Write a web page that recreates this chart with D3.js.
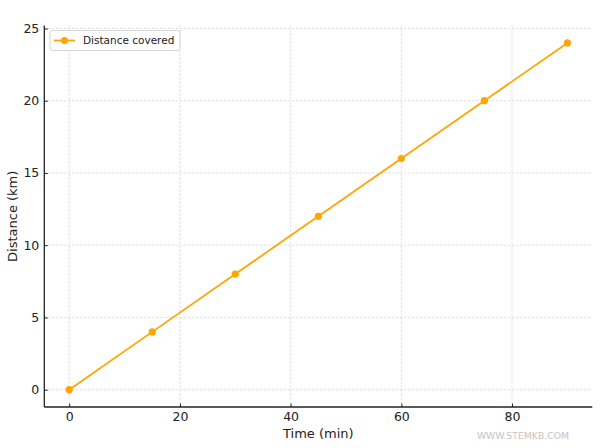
<!DOCTYPE html>
<html><head><meta charset="utf-8">
<script src="https://cdn.jsdelivr.net/npm/d3@7"></script>
<style>body{margin:0;background:#fff}svg{display:block}text{font-family:"DejaVu Sans",sans-serif}</style>
</head><body>
<svg id="c" width="600" height="448"></svg>
<script>
const times = [0, 15, 30, 45, 60, 75, 90];
const distances = [0, 4, 8, 12, 16, 20, 24];
const xTicks = [0, 20, 40, 60, 80];
const yTicks = [0, 5, 10, 15, 20, 25];
const seriesName = "Distance covered";

const svg = d3.select("#c");
const L = 44.3, R = 592.3, T = 25.6, B = 407;
const x = d3.scaleLinear().domain([-4.5, 94.5]).range([L, R]);
const y = d3.scaleLinear().domain([-1.2, 25.2]).range([B, T]);

// grid
const g = svg.append("g");
g.selectAll("line.gx").data(xTicks).join("line")
  .attr("x1", d => x(d)).attr("x2", d => x(d)).attr("y1", T).attr("y2", B)
  .attr("stroke", "#cfcfcf").attr("stroke-width", 0.8).attr("stroke-dasharray", "2,2");
g.selectAll("line.gy").data(yTicks).join("line")
  .attr("y1", d => y(d)).attr("y2", d => y(d)).attr("x1", L).attr("x2", R)
  .attr("stroke", "#cfcfcf").attr("stroke-width", 0.8).attr("stroke-dasharray", "2,2");

// axes
const xa = svg.append("g").attr("transform", `translate(0,${B})`)
  .call(d3.axisBottom(x).tickValues(xTicks).tickSize(-3.5).tickPadding(5).tickFormat(d3.format("d")));
const ya = svg.append("g").attr("transform", `translate(${L},0)`)
  .call(d3.axisLeft(y).tickValues(yTicks).tickSize(-3.5).tickPadding(5).tickFormat(d3.format("d")));
[xa, ya].forEach(a => {
  a.attr("font-size", 12.5).attr("font-family", '"DejaVu Sans",sans-serif');
  a.select(".domain").attr("stroke", "#222").attr("stroke-width", 1.3);
  a.selectAll(".tick line").attr("stroke", "#222").attr("stroke-width", 1);
  a.selectAll(".tick text").attr("font-size", 12.5).attr("fill", "#222");
});
xa.select(".domain").attr("d", `M${L},0H${R}`);
ya.select(".domain").attr("d", `M0,${B}V${T}`);

// line
svg.append("path").datum(times.map((t, i) => [t, distances[i]]))
  .attr("fill", "none").attr("stroke", "#FFA500").attr("stroke-width", 1.8)
  .attr("d", d3.line().x(d => x(d[0])).y(d => y(d[1])));
svg.selectAll("circle.p").data(times).join("circle")
  .attr("cx", d => x(d)).attr("cy", (d, i) => y(distances[i])).attr("r", 3.6)
  .attr("fill", "#FFA500");

// labels
svg.append("text").attr("x", (L + R) / 2).attr("y", 437.5).attr("text-anchor", "middle")
  .attr("font-size", 13).attr("fill", "#222").text("Time (min)");
svg.append("text").attr("transform", `translate(17,${(T + B) / 2}) rotate(-90)`)
  .attr("text-anchor", "middle").attr("font-size", 13).attr("fill", "#222").text("Distance (km)");

// legend
const lg = svg.append("g");
lg.append("rect").attr("x", 50).attr("y", 30.5).attr("width", 130).attr("height", 20).attr("rx", 2.5)
  .attr("fill", "#fff").attr("fill-opacity", 0.85).attr("stroke", "#d6d6d6").attr("stroke-width", 1);
lg.append("line").attr("x1", 54).attr("x2", 75).attr("y1", 40.5).attr("y2", 40.5)
  .attr("stroke", "#FFA500").attr("stroke-width", 1.8);
lg.append("circle").attr("cx", 64.5).attr("cy", 40.5).attr("r", 3.6).attr("fill", "#FFA500");
lg.append("text").attr("x", 83).attr("y", 44).attr("font-size", 10.5).attr("fill", "#222").text(seriesName);

// watermark
svg.append("text").attr("x", 523).attr("y", 439).attr("text-anchor", "middle")
  .attr("font-size", 9.3).attr("fill", "#c4c4c4").text("WWW.STEMKB.COM");
</script>
</body></html>
